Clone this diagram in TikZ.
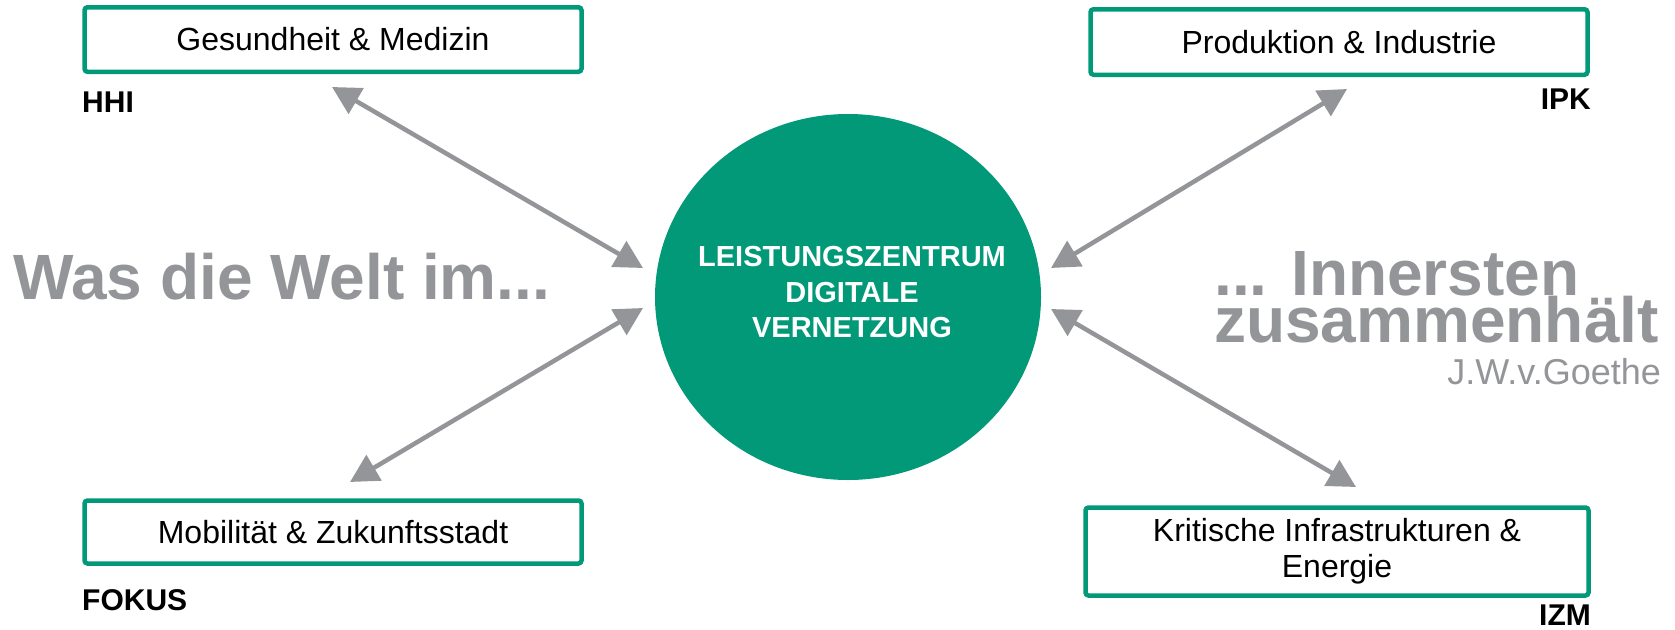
\documentclass[tikz,border=0pt]{standalone}
\usepackage{fontspec}
\setmainfont{Liberation Sans}
\usetikzlibrary{calc}
\usetikzlibrary{arrows.meta}
\usetikzlibrary{shapes.geometric}
\definecolor{fhgruen}{RGB}{2,153,121}
\definecolor{fhgrau}{RGB}{147,149,152}

\begin{document}
\begin{tikzpicture}[x=1pt,y=-1pt,
  feld/.style={draw=fhgruen,line width=4.5pt,rounded corners=3pt,fill=white,
    minimum width=497pt,inner sep=0pt,align=center,
    font=\fontsize{32}{36}\selectfont},
  institut/.style={inner sep=0pt,font=\fontsize{30}{36}\selectfont\bfseries},
  zitat/.style={inner sep=0pt,text=fhgrau,font=\fontsize{64}{48}\selectfont\bfseries},
  pfeil/.style={draw=fhgrau,line width=4.5pt,
    {Triangle[length=28pt,width=29pt]}-{Triangle[length=28pt,width=29pt]}}]
\useasboundingbox (0,0) rectangle (1675,629);
% Leistungszentrum in der Mitte
\node[ellipse,fill=fhgruen,minimum width=386pt,minimum height=366pt] (lz) at (848,297) {};
\node[text=white,align=center,font=\fontsize{29}{35.5}\selectfont\bfseries] (lztext)
  at (852,292.5) {LEISTUNGSZENTRUM\\DIGITALE\\VERNETZUNG};
% die vier Felder
\node[feld,minimum height=64.5pt] (gm) at (333,39.5) {Gesundheit \& Medizin};
\node[feld,minimum height=65.5pt] (pi) at (1339,42) {Produktion \& Industrie};
\node[feld,minimum height=63pt] (mz) at (333,532) {Mobilität \& Zukunftsstadt};
\node[feld,minimum width=503pt,minimum height=88pt] (ki) at (1337,551.5)
  {Kritische Infrastrukturen \&\\Energie};
\node[institut,anchor=base west] (hhi) at (82,112) {HHI};
\node[institut,anchor=base east] (ipk) at (1591,109) {IPK};
\node[institut,anchor=base west] (fokus) at (82,610) {FOKUS};
\node[institut,anchor=base east] (izm) at (1591,625) {IZM};
% Goethe
\node[zitat,anchor=base west] (welt) at (13,299) {Was die Welt im...};
\node[zitat,anchor=base west] (innen) at (1214,295) {... Innersten};
\node[zitat,anchor=base west] (halt) at (1214,342) {zusammenhält};
\node[inner sep=0pt,text=fhgrau,font=\fontsize{36}{40}\selectfont,anchor=base east]
  (goethe) at (1661,384) {J.W.v.Goethe};
% Pfeile
\coordinate (lz-nw) at (643,268);
\coordinate (lz-sw) at (643,308);
\coordinate (lz-ne) at (1051,268);
\coordinate (lz-se) at (1051,309);
\coordinate (gm-p) at (332,87);
\coordinate (mz-p) at (350,482);
\coordinate (pi-p) at (1347,89);
\coordinate (ki-p) at (1356,487);
\draw[pfeil] (lz-nw)--(gm-p);
\draw[pfeil] (lz-sw)--(mz-p);
\draw[pfeil] (lz-ne)--(pi-p);
\draw[pfeil] (lz-se)--(ki-p);
\end{tikzpicture}
\end{document}
